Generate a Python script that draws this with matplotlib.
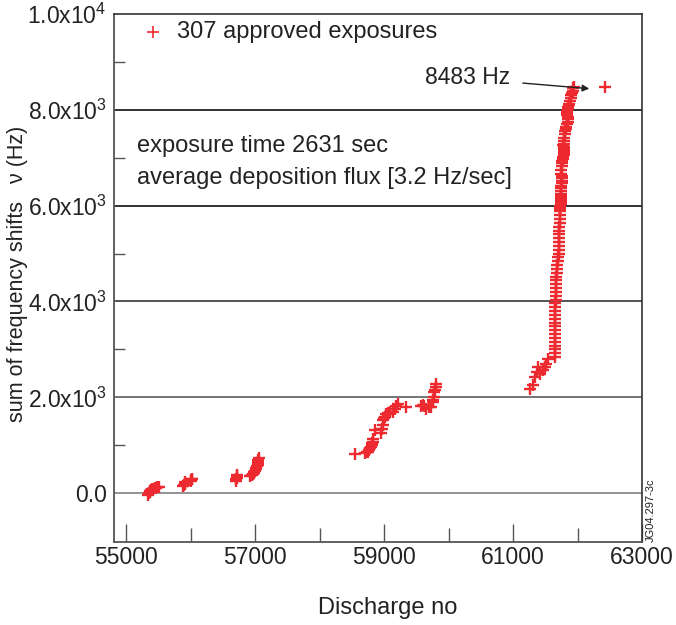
import matplotlib
matplotlib.use("Agg")
import matplotlib.pyplot as plt

plt.rcParams['font.family'] = ['Liberation Sans', 'DejaVu Sans']
plt.rcParams['mathtext.fontset'] = 'custom'
plt.rcParams['mathtext.rm'] = 'Liberation Sans'
plt.rcParams['mathtext.it'] = 'Liberation Sans:italic'

# ---- data (discharge number, cumulative frequency shift in Hz) ----
x_a = [55345, 55355, 55365, 55375, 55385, 55395, 55405, 55425, 55445, 55465, 55485, 55505]
y_a = [-40, 0, 20, 40, 55, 70, 80, 90, 100, 110, 120, 130]

x_b = [55890, 55905, 55915, 55920, 56000, 56015, 56025, 56030]
y_b = [150, 170, 200, 240, 250, 270, 290, 300]

x_c = [56705, 56710, 56715, 56720, 56725]
y_c = [260, 290, 320, 350, 380]

x_d = [56930, 56950, 56970, 56980, 56990, 57000, 57010, 57020, 57030, 57040, 57040, 57050, 57050, 57060]
y_d = [360, 380, 400, 420, 440, 470, 500, 530, 560, 590, 620, 650, 690, 730]

x_e = [58550, 58704, 58740, 58755, 58770, 58780, 58795, 58807, 58820, 58832, 58832, 58858,
       58950, 58970, 58986, 58986, 59000, 59012, 59037, 59060, 59100, 59140, 59165, 59190, 59217,
       59345, 59576, 59600, 59627, 59653, 59690, 59730, 59755, 59765, 59780, 59780, 59795, 59807, 59807]
y_e = [826, 840, 850, 860, 900, 938, 970, 1000, 1040, 1070, 1140, 1310,
       1250, 1340, 1416, 1520, 1560, 1590, 1660, 1680, 1690, 1695, 1765, 1820, 1870,
       1800, 1812, 1830, 1812, 1765, 1790, 1800, 1900, 1950, 2006, 2110, 2160, 2215, 2285]

x_f = [61262, 61313, 61339, 61365, 61390, 61416, 61470, 61493, 61519, 61544]
y_f = [2180, 2250, 2423, 2527, 2631, 2493, 2560, 2631, 2700, 2805]

x_g = [61652, 61653, 61653, 61654, 61655, 61655, 61655, 61655, 61656, 61656,
       61657, 61657, 61657, 61658, 61658, 61659, 61660, 61661, 61663, 61665,
       61668, 61672, 61677, 61683, 61689, 61695, 61702, 61709]
y_g = [2840, 2920, 3000, 3080, 3160, 3240, 3320, 3400, 3480, 3560,
       3640, 3720, 3800, 3880, 3960, 4040, 4120, 4200, 4280, 4360,
       4440, 4520, 4600, 4680, 4760, 4840, 4920, 5000]

x_h = [61713, 61715, 61715, 61717, 61717, 61719, 61720, 61721, 61723, 61725,
       61727, 61729, 61731, 61735, 61739, 61743, 61747, 61745, 61741, 61737]
y_h = [5080, 5160, 5240, 5320, 5400, 5480, 5560, 5640, 5720, 5800,
       5880, 5920, 5960, 6000, 6040, 6080, 6120, 6160, 6200, 6250]

x_i = [61740, 61745, 61751, 61757, 61763, 61759, 61753, 61747, 61750, 61755,
       61761, 61767, 61775, 61781, 61787, 61793, 61797, 61791, 61785, 61781, 61785]
y_i = [6300, 6370, 6420, 6470, 6520, 6570, 6620, 6670, 6740, 6820,
       6900, 6940, 6980, 7020, 7060, 7100, 7140, 7180, 7220, 7260, 7290]

x_j = [61790, 61797, 61805, 61813, 61821, 61829, 61837, 61845, 61853, 61845,
       61837, 61831, 61839, 61847, 61855, 61863, 61870]
y_j = [7350, 7420, 7500, 7550, 7600, 7650, 7700, 7750, 7800, 7850,
       7900, 7940, 7980, 8020, 8060, 8100, 8120]

x_k = [61880, 61893, 61905, 61917, 61927, 61937, 61944]
y_k = [8190, 8250, 8300, 8350, 8400, 8450, 8483]

x_total = [62426]
y_total = [8483]

x_all = x_a + x_b + x_c + x_d + x_e + x_f + x_g + x_h + x_i + x_j + x_k + x_total
y_all = y_a + y_b + y_c + y_d + y_e + y_f + y_g + y_h + y_i + y_j + y_k + y_total

x_ticks = [55000, 57000, 59000, 61000, 63000]
x_tick_labels = ['55000', '57000', '59000', '61000', '63000']
y_ticks = [0, 2000, 4000, 6000, 8000, 10000]
y_tick_labels = ['0.0', r'2.0x10$^3$', r'4.0x10$^3$', r'6.0x10$^3$', r'8.0x10$^3$', r'1.0x10$^4$']

RED = '#ec2a30'
INK = '#222222'

fig = plt.figure(figsize=(6.76, 6.25), dpi=100)
ax = fig.add_axes([113.5/676, 1 - 542/625, (642-113.5)/676, (542-14)/625])

ax.set_xlim(54806, 63000)
ax.set_ylim(-1020, 10000)

# horizontal grid lines
grid_colors = {0: '#8a8a8a', 2000: '#6a6a6a', 4000: '#444444', 6000: '#222222', 8000: '#222222'}
for yv, c in grid_colors.items():
    ax.axhline(yv, color=c, lw=1.3, zorder=1)

ax.plot(x_all, y_all, linestyle='none', marker='+', color=RED,
        markersize=9, markeredgewidth=1.7, zorder=3)

# ticks
ax.set_xticks(x_ticks)
ax.set_xticklabels(x_tick_labels, fontsize=16.5, color=INK)
ax.set_xticks([56000, 58000, 60000, 62000], minor=True)
ax.set_yticks(y_ticks)
ax.set_yticklabels(y_tick_labels, fontsize=16.5, color=INK)
ax.set_yticks([1000, 3000, 5000, 7000, 9000], minor=True)
ax.tick_params(axis='x', which='major', direction='in', length=13, width=1, color='#555555', pad=3)
ax.tick_params(axis='x', which='minor', direction='in', length=10, width=1, color='#555555')
ax.tick_params(axis='y', which='major', direction='in', length=0, pad=5)
ax.tick_params(axis='y', which='minor', direction='in', length=8, width=1, color='#555555')

for side in ['left', 'bottom']:
    ax.spines[side].set_color('#555555')
    ax.spines[side].set_linewidth(1.3)
for side in ['top', 'right']:
    ax.spines[side].set_color('#333333')
    ax.spines[side].set_linewidth(1.2)

# legend-like entry
ax.plot([55419], [9625], linestyle='none', marker='+', color=RED, markersize=8, markeredgewidth=1.2)
ax.text(55791, 9625, '307 approved exposures', fontsize=17, color=INK, va='center', ha='left')

ax.text(55170, 7250, 'exposure time 2631 sec', fontsize=17, color=INK, va='center', ha='left')
ax.text(55170, 6583, 'average deposition flux [3.2 Hz/sec]', fontsize=17, color=INK, va='center', ha='left')

ax.annotate('', xy=(62225, 8437), xytext=(61109, 8563),
            arrowprops=dict(arrowstyle='-|>', color=INK, lw=1.0, mutation_scale=10))
ax.text(60953, 8667, '8483 Hz', fontsize=16.5, color=INK, va='center', ha='right')

fig.text(388/676, 1 - 608/625, 'Discharge no', fontsize=17, color=INK, ha='center', va='center')
fig.text(18/676, 1 - 274/625, r'sum of frequency shifts   ν (Hz)', fontsize=15.5, color=INK,
         ha='center', va='center', rotation=90)
fig.text(651/676, 1 - 510/625, 'JG04.297-3c', fontsize=8, color=INK, ha='center', va='center', rotation=90)

fig.savefig('out.png', dpi=100)
